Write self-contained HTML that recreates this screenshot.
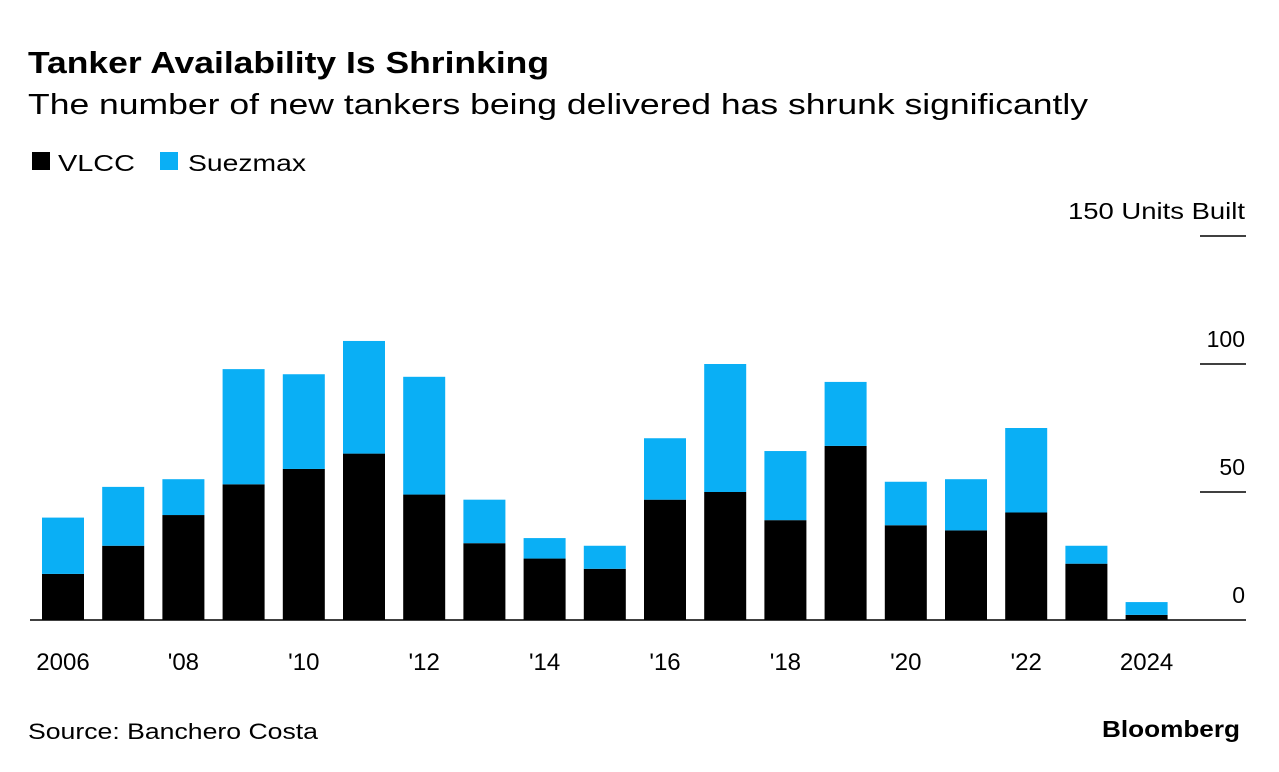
<!DOCTYPE html>
<html><head><meta charset="utf-8"><style>
body{margin:0;background:#fff;font-family:"Liberation Sans",sans-serif;}
svg{display:block}
</style></head><body>
<svg width="1279" height="772">
<text x="28" y="73" font-size="31" font-weight="bold" fill="#000" textLength="521" lengthAdjust="spacingAndGlyphs">Tanker Availability Is Shrinking</text>
<text x="28" y="114" font-size="29" fill="#000" textLength="1060" lengthAdjust="spacingAndGlyphs">The number of new tankers being delivered has shrunk significantly</text>
<g>
<rect x="32" y="152" width="18" height="18" fill="#000"/>
<text x="58" y="171" font-size="23" textLength="77" lengthAdjust="spacingAndGlyphs">VLCC</text>
<rect x="160" y="152" width="18" height="18" fill="#0aaff5"/>
<text x="188" y="171" font-size="23" textLength="118" lengthAdjust="spacingAndGlyphs">Suezmax</text>
</g>
<g id="plot"></g>
<text x="28" y="739" font-size="22" textLength="290" lengthAdjust="spacingAndGlyphs">Source: Banchero Costa</text>
<text x="1102" y="737" font-size="23" font-weight="bold" textLength="138" lengthAdjust="spacingAndGlyphs">Bloomberg</text>
</svg>
<script>
const years=[2006,2007,2008,2009,2010,2011,2012,2013,2014,2015,2016,2017,2018,2019,2020,2021,2022,2023,2024];
const vlcc=[18,29,41,53,59,65,49,30,24,20,47,50,39,68,37,35,42,22,2];
const suezmax=[22,23,14,45,37,44,46,17,8,9,24,50,27,25,17,20,33,7,5];
const xLabels=["2006","","'08","","'10","","'12","","'14","","'16","","'18","","'20","","'22","","2024"];
const yTicks=[0,50,100,150];
const NS="http://www.w3.org/2000/svg";
const g=document.getElementById('plot');
const y=v=>620-v*2.56;
const x=i=>42+i*60.2;
const bw=42;
function el(t,a){const e=document.createElementNS(NS,t);for(const k in a)e.setAttribute(k,a[k]);g.appendChild(e);return e;}
yTicks.forEach(t=>{
 if(t>0){const l=el('line',{x1:1200,x2:1246,y1:y(t),y2:y(t),stroke:'#000','stroke-width':1.5});
 
 }
 const tx=el('text',{x:1245,y:y(t)-17,'font-size':23,'text-anchor':'end'});
 tx.textContent=t===150?'150 Units Built':String(t);
 if(t===150){tx.setAttribute('textLength','177');tx.setAttribute('lengthAdjust','spacingAndGlyphs');}
 
 
});
years.forEach((yr,i)=>{
 const b1=el('rect',{x:x(i),y:y(vlcc[i]),width:bw,height:vlcc[i]*2.56,fill:'#000'});
 
 
 const b2=el('rect',{x:x(i),y:y(vlcc[i]+suezmax[i]),width:bw,height:suezmax[i]*2.56,fill:'#0aaff5'});
 
 
 if(xLabels[i]){const t=el('text',{x:x(i)+bw/2,y:670,'font-size':24,'text-anchor':'middle'});t.textContent=xLabels[i];
 
 }
});
const base=el('line',{x1:30,x2:1246,y1:620,y2:620,stroke:'#000','stroke-width':1.5});


</script>
</body></html>
